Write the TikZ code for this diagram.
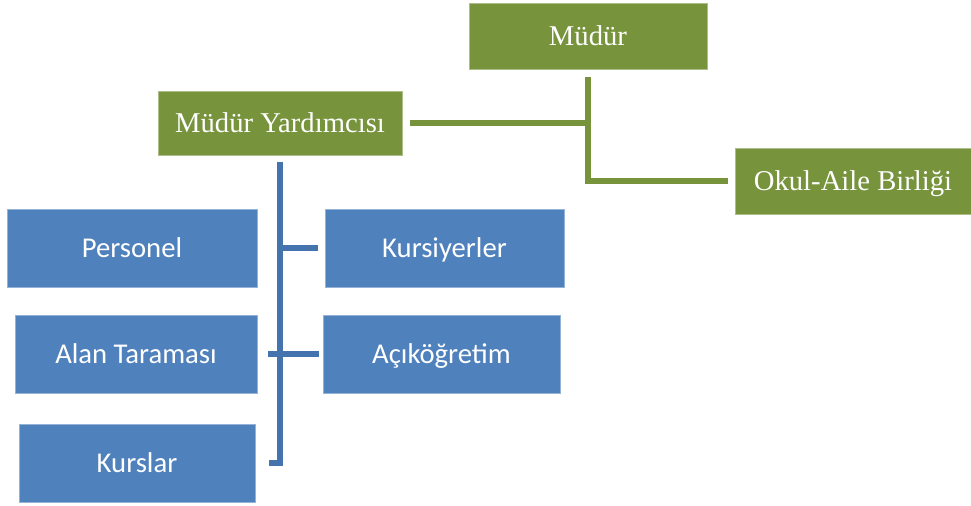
\documentclass[tikz,border=0pt]{standalone}
\usepackage{fontspec}
\setmainfont{Liberation Serif}
\newfontfamily\kutufont{Carlito}
\usepackage{tikz}

\definecolor{yesilkutu}{HTML}{77933C}
\definecolor{mavikutu}{HTML}{4F81BD}
\definecolor{mavicizgi}{HTML}{4573AD}

\begin{document}
\begin{tikzpicture}[
    x=0.75pt, y=-0.75pt,   % koordinatlar piksel olarak
    yonetim/.style={fill=yesilkutu, draw=yesilkutu!60!white, text=white,
        font=\fontsize{21.5}{25}\selectfont, inner sep=0pt, line width=0.6pt,
        text height=14.5pt, text depth=0.5pt},
    birim/.style={fill=mavikutu, draw=mavikutu!60!white, text=white,
        font=\kutufont\fontsize{21.5}{25}\selectfont, inner sep=0pt,
        text height=14.5pt, text depth=0.5pt,
        minimum height=58.5pt, line width=0.6pt},
    yesilhat/.style={draw=yesilkutu, line width=4.2pt},
    mavihat/.style={draw=mavicizgi, line width=4.2pt},
]
\useasboundingbox (0,0) rectangle (971,506);

% --- Yonetim (yesil) ---
\node[yonetim, minimum width=178.5pt, minimum height=49.5pt] (mudur) at (588,36) {Müdür};
\node[yonetim, minimum width=183pt, minimum height=48pt] (yard) at (280,123) {Müdür Yardımcısı};
\node[yonetim, minimum width=177pt, minimum height=49.5pt] (okul) at (853,181) {Okul-Aile Birliği};

% --- Birimler (mavi) ---
\node[birim, minimum width=187.5pt] (personel) at (132,248) {Personel};
\node[birim, minimum width=179.25pt] (kursiyer) at (444.5,248) {Kursiyerler};
\node[birim, minimum width=181.5pt] (alan) at (136,354) {Alan Taraması};
\node[birim, minimum width=177.75pt] (acik) at (441.5,354) {Açıköğretim};
\node[birim, minimum width=177pt] (kurslar) at (137,463) {Kurslar};

% --- Yesil baglantilar ---
\draw[yesilhat] ([yshift=-6]mudur.south) |- ([xshift=-5]okul.west);
\draw[yesilhat] ([xshift=6]yard.east) -- (yard.east -| mudur.south);

% --- Mavi baglantilar ---
\draw[mavihat] ([yshift=-5]yard.south) |- ([xshift=10]kurslar.east);
\draw[mavihat] (yard.south |- kursiyer.west) -- ([xshift=-5]kursiyer.west);
\draw[mavihat] ([xshift=8]alan.east) -- ([xshift=-3]acik.west);

\end{tikzpicture}
\end{document}
